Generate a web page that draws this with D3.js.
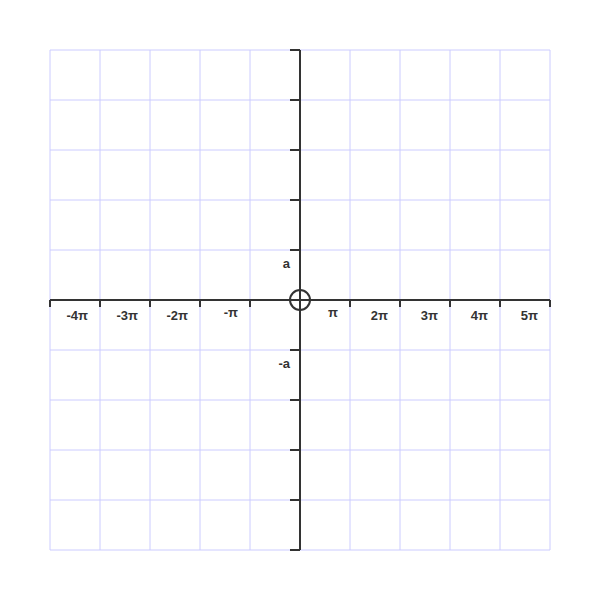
<!DOCTYPE html>
<html><head><meta charset="utf-8">
<script src="https://cdn.jsdelivr.net/npm/d3@7"></script>
<style>body{margin:0;background:#fff}</style>
</head><body>
<svg id="c" width="600" height="600"></svg>
<script>
const xTickValues = [-5,-4,-3,-2,-1,0,1,2,3,4,5];
const yTickValues = [-5,-4,-3,-2,-1,0,1,2,3,4,5];
const xLabelValues = [-4,-3,-2,-1,1,2,3,4,5];
const xLabelTexts = ["-4π","-3π","-2π","-π","π","2π","3π","4π","5π"];
const yLabelValues = [1,-1];
const yLabelTexts = ["a","-a"];

const svg = d3.select("#c");
const x = d3.scaleLinear().domain([-5,5]).range([50,550]);
const y = d3.scaleLinear().domain([-5,5]).range([550,50]);

// grid
const grid = svg.append("g").attr("stroke","#ccccff").attr("stroke-width",1);
grid.selectAll(".v").data(xTickValues).join("line")
  .attr("x1",d=>x(d)).attr("x2",d=>x(d)).attr("y1",y(5)).attr("y2",y(-5));
grid.selectAll(".h").data(yTickValues).join("line")
  .attr("y1",d=>y(d)).attr("y2",d=>y(d)).attr("x1",x(-5)).attr("x2",x(5));

const axisColor = "#333";
// x axis
const xAxis = svg.append("g").attr("transform",`translate(0,${y(0)})`)
  .call(d3.axisBottom(x).offset(0).tickValues(xTickValues.filter(d=>d!==0)).tickSize(7).tickSizeOuter(0).tickFormat(""));
xAxis.select(".domain").attr("stroke",axisColor).attr("stroke-width",2);
xAxis.selectAll(".tick line").attr("stroke",axisColor).attr("stroke-width",2);
// y axis
const yAxis = svg.append("g").attr("transform",`translate(${x(0)},0)`)
  .call(d3.axisLeft(y).offset(0).tickValues(yTickValues.filter(d=>d!==0)).tickSize(10).tickSizeOuter(0).tickFormat(""));
yAxis.select(".domain").attr("stroke",axisColor).attr("stroke-width",2);
yAxis.selectAll(".tick line").attr("stroke",axisColor).attr("stroke-width",2);

// labels
const font = "'Liberation Sans', Arial, sans-serif";
svg.append("g").selectAll("text").data(xLabelValues).join("text")
  .attr("x",d=>x(d)-12)
  .attr("y",(d,i)=>y(0) + (/\d/.test(xLabelTexts[i]) ? 20 : 17))
  .attr("text-anchor","end")
  .attr("font-family",font).attr("font-size",13).attr("font-weight","bold")
  .attr("fill","#333")
  .text((d,i)=>xLabelTexts[i]);
svg.append("g").selectAll("text").data(yLabelValues).join("text")
  .attr("x",x(0)-10)
  .attr("y",d=>y(d)+18)
  .attr("text-anchor","end")
  .attr("font-family",font).attr("font-size",13).attr("font-weight","bold")
  .attr("fill","#333")
  .text((d,i)=>yLabelTexts[i]);

// origin circle
svg.append("circle").attr("cx",x(0)).attr("cy",y(0)).attr("r",10)
  .attr("fill","none").attr("stroke",axisColor).attr("stroke-width",2);
</script>
</body></html>
